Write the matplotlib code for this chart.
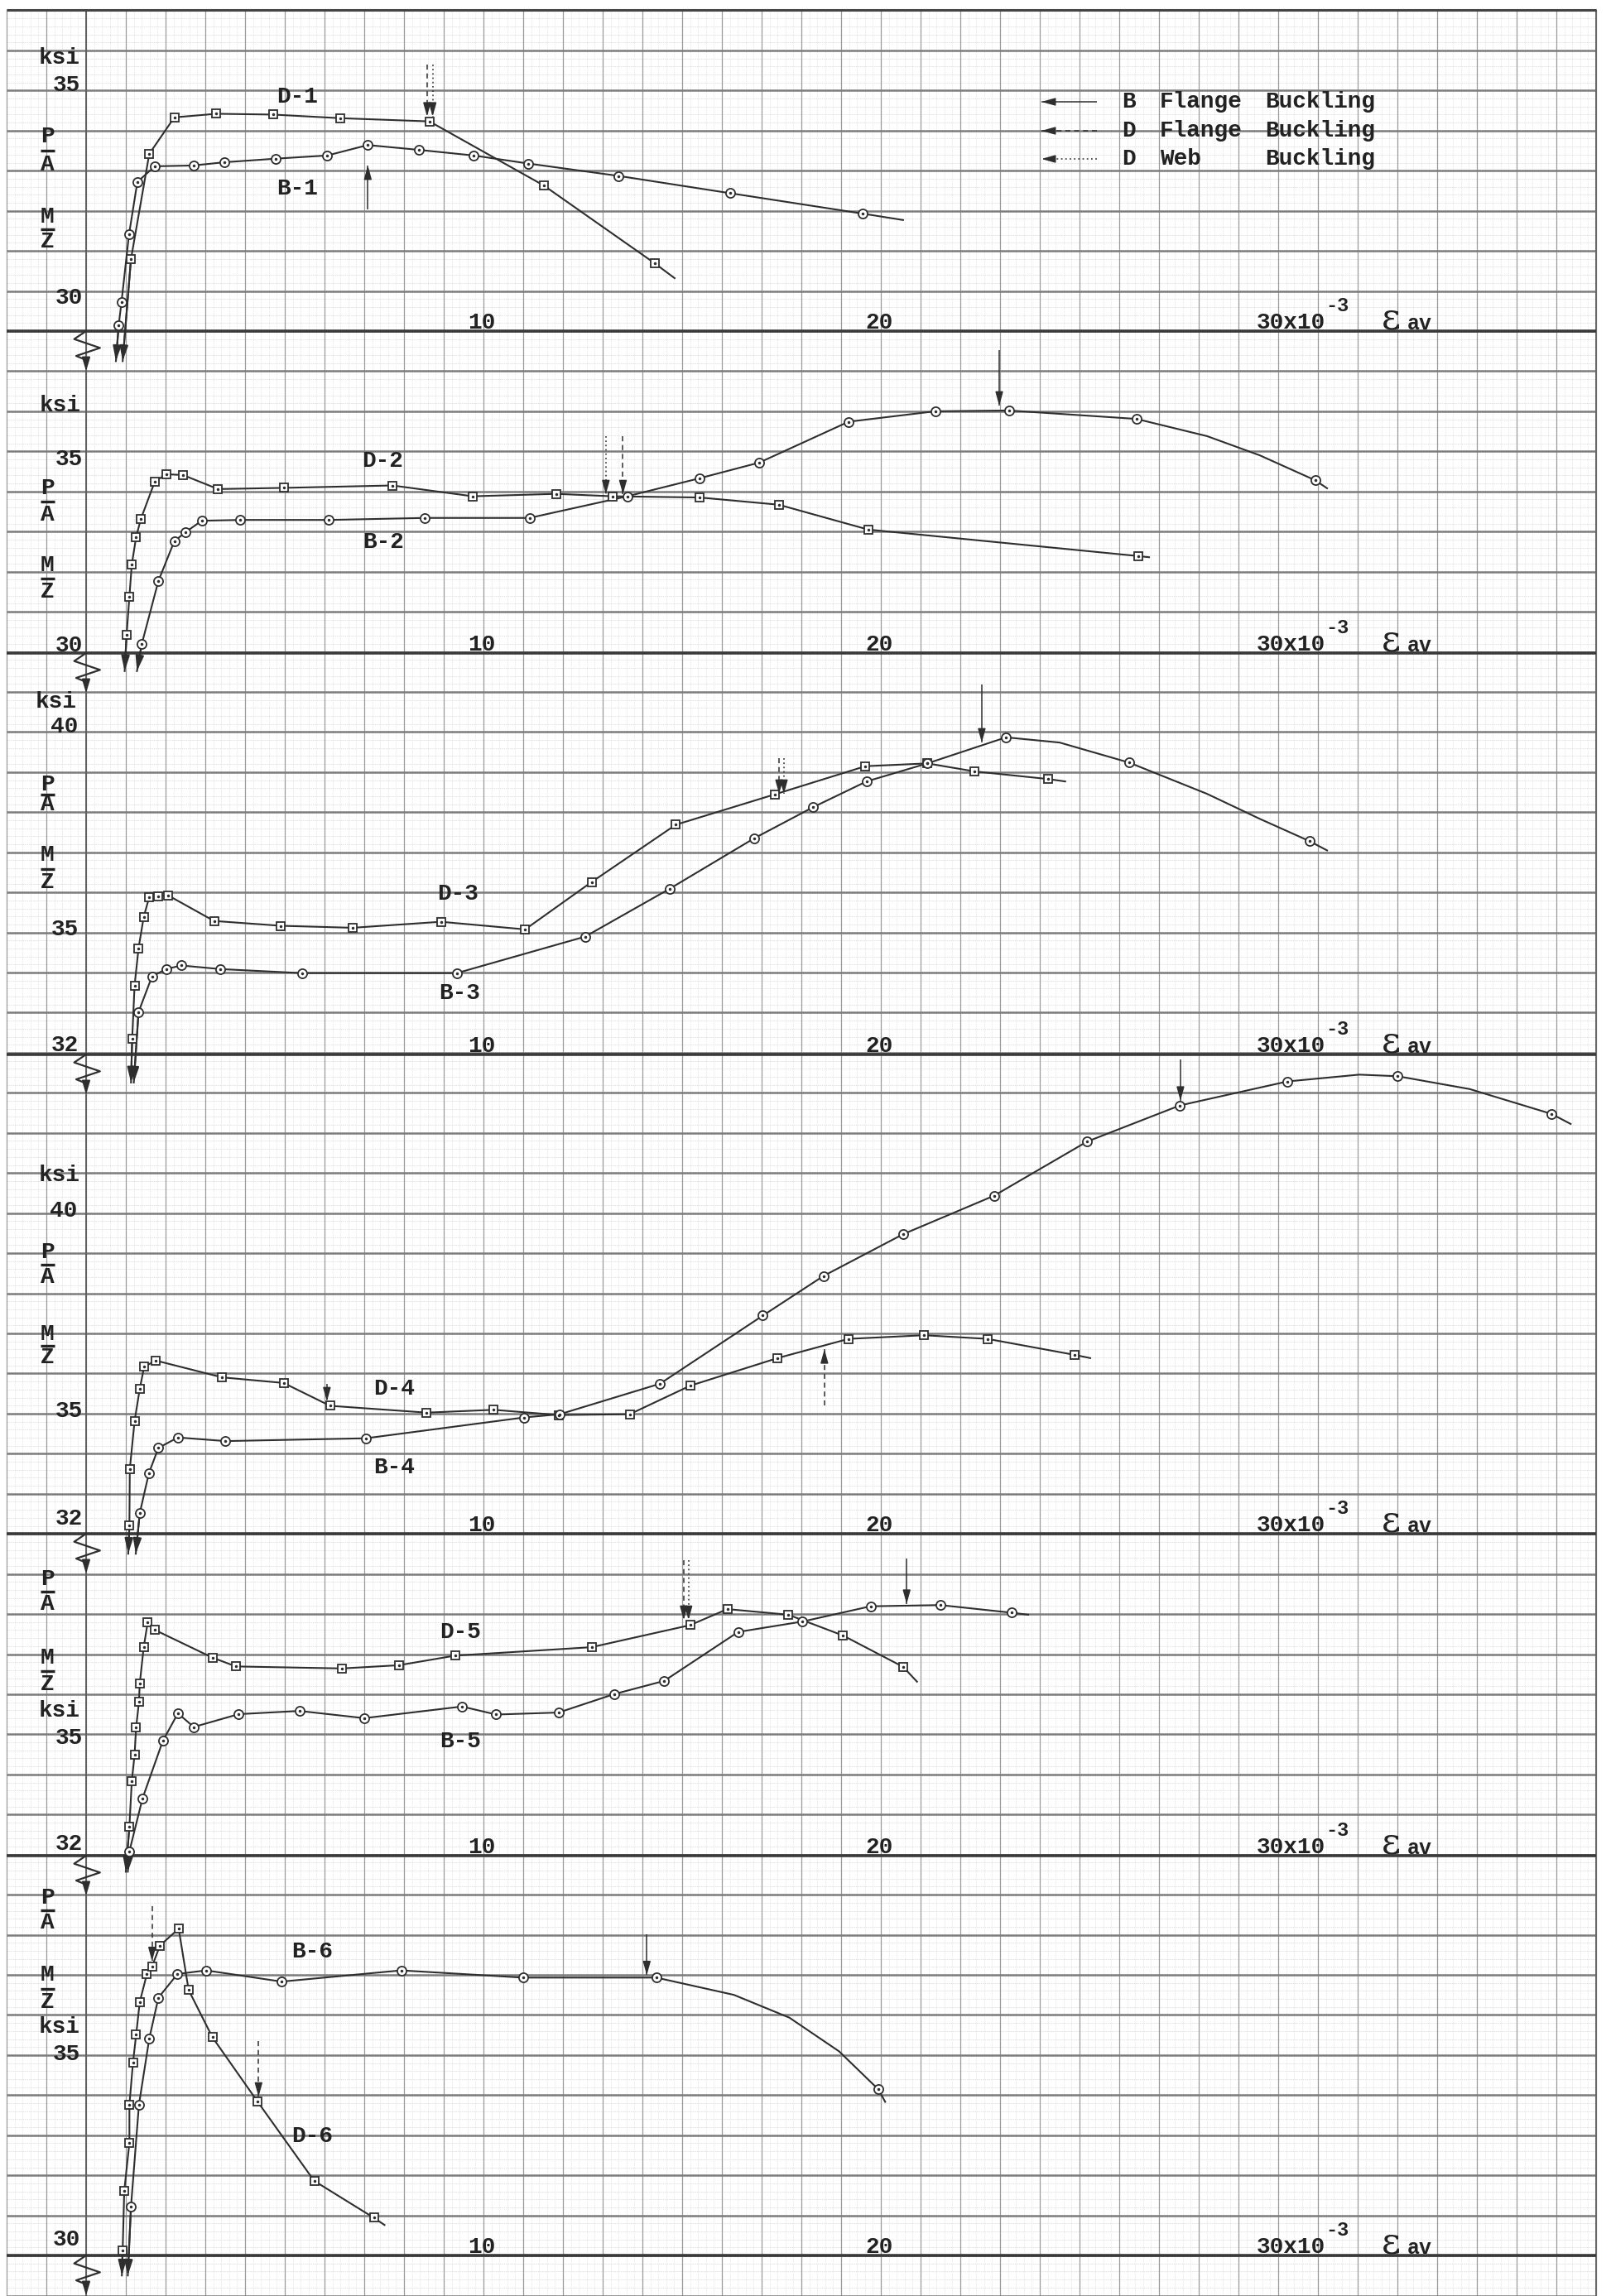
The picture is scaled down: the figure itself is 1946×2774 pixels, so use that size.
import matplotlib
matplotlib.use("Agg")
import matplotlib.pyplot as plt
import numpy as np

W, H, DPI = 1946, 2774, 100
UX, UY = 48.0, 48.44      # pixels per 1e-3 strain / per ksi on the plate
X0 = 104                  # pixel column of zero strain
INK = "#2e2e2e"
TYPE = dict(family="Liberation Mono", weight="bold", color="#222222")
FS = 20

# strain axis of each panel: (pixel row, stress in ksi at that row)
panel_base = [(400, 29), (789, 30), (1274, 32), (1853, 32), (2242, 32), (2725, 30)]

# ---- curves: average strain (x10^-3) vs P/A, M/Z (ksi); first point is the tail below the axis
d1_eps = [0.92, 1.13, 1.59, 2.22, 3.28, 4.70, 6.40, 8.64, 11.52, 14.31, 14.81]
d1_ksi = [28.25, 30.80, 33.42, 34.33, 34.42, 34.40, 34.31, 34.23, 32.63, 30.69, 30.32]
d1_mk = list(range(1, 10))
b1_eps = [0.75, 0.82, 0.89, 1.08, 1.29, 1.73, 2.70, 3.47, 4.77, 6.07, 7.09, 8.37, 9.75, 11.12,
          13.40, 16.20, 19.54, 20.56]
b1_ksi = [28.25, 29.14, 29.72, 31.41, 32.72, 33.11, 33.13, 33.21, 33.30, 33.38, 33.64, 33.52,
          33.38, 33.18, 32.87, 32.44, 31.93, 31.77]
b1_mk = list(range(1, 17))

d2_eps = [0.97, 1.02, 1.09, 1.15, 1.26, 1.38, 1.73, 2.02, 2.44, 3.32, 4.98, 7.71, 9.73, 11.83,
          13.25, 15.44, 17.43, 19.68, 26.47, 26.75]
d2_ksi = [29.55, 30.46, 31.41, 32.21, 32.90, 33.35, 34.28, 34.46, 34.44, 34.09, 34.12, 34.18,
          33.91, 33.97, 33.91, 33.88, 33.70, 33.08, 32.42, 32.39]
d2_mk = list(range(1, 19))
b2_eps = [1.28, 1.40, 1.82, 2.22, 2.51, 2.91, 3.88, 6.11, 8.53, 11.16, 13.62, 15.44, 16.94,
          19.19, 21.37, 23.22, 26.43, 28.21, 29.54, 30.93, 31.23]
b2_ksi = [29.55, 30.22, 31.80, 32.79, 33.02, 33.30, 33.32, 33.32, 33.37, 33.37, 33.91, 34.36,
          34.75, 35.77, 36.03, 36.05, 35.84, 35.41, 34.93, 34.31, 34.11]
b2_mk = list(range(1, 17)) + [19]

d3_eps = [1.13, 1.16, 1.22, 1.32, 1.45, 1.59, 1.82, 2.06, 3.22, 4.90, 6.71, 8.93, 11.05, 12.72,
          14.84, 17.34, 19.61, 21.17, 22.36, 24.21, 24.64]
d3_ksi = [31.3, 32.40, 33.72, 34.65, 35.43, 35.93, 35.95, 35.97, 35.33, 35.21, 35.16, 35.31,
          35.12, 36.30, 37.73, 38.49, 39.19, 39.26, 39.06, 38.87, 38.81]
d3_mk = list(range(1, 20))
b3_eps = [1.20, 1.32, 1.66, 2.02, 2.39, 3.38, 5.43, 9.33, 12.56, 14.68, 16.81, 18.30, 19.64,
          21.17, 23.15, 24.50, 26.25, 28.21, 29.53, 30.79, 31.23]
b3_ksi = [31.3, 33.06, 33.95, 34.13, 34.22, 34.13, 34.03, 34.03, 34.94, 36.13, 37.39, 38.17,
          38.81, 39.26, 39.91, 39.78, 39.28, 38.50, 37.88, 37.32, 37.09]
b3_mk = list(range(1, 15)) + [16, 19]

d4_eps = [1.06, 1.09, 1.10, 1.22, 1.35, 1.46, 1.75, 3.42, 4.97, 6.14, 8.57, 10.26, 11.89, 13.68,
          15.20, 17.40, 19.19, 21.09, 22.68, 24.88, 25.27]
d4_ksi = [31.5, 32.20, 33.61, 34.81, 35.61, 36.16, 36.32, 35.90, 35.76, 35.19, 35.02, 35.09,
          34.96, 34.98, 35.69, 36.38, 36.86, 36.95, 36.86, 36.46, 36.38]
d4_mk = list(range(1, 20))
b4_eps = [1.25, 1.35, 1.58, 1.82, 2.31, 3.51, 7.04, 11.03, 11.92, 14.44, 17.03, 18.56, 20.56,
          22.85, 25.19, 27.52, 30.23, 32.04, 33.01, 34.82, 36.88, 37.36]
b4_ksi = [31.5, 32.51, 33.51, 34.14, 34.40, 34.31, 34.38, 34.90, 34.98, 35.74, 37.44, 38.43,
          39.47, 40.43, 41.78, 42.68, 43.28, 43.45, 43.41, 43.09, 42.47, 42.22]
b4_mk = list(range(1, 17)) + [18, 20]

d5_eps = [1.00, 1.09, 1.15, 1.22, 1.26, 1.33, 1.35, 1.45, 1.55, 1.73, 3.18, 3.77, 6.44, 7.87,
          9.29, 12.72, 15.20, 16.14, 17.67, 19.05, 20.56, 20.91]
d5_ksi = [31.6, 32.73, 33.86, 34.52, 35.21, 35.83, 36.29, 37.20, 37.82, 37.63, 36.94, 36.72,
          36.67, 36.75, 36.99, 37.20, 37.75, 38.15, 38.01, 37.49, 36.71, 36.34]
d5_mk = list(range(1, 21))
b5_eps = [1.05, 1.09, 1.42, 1.93, 2.31, 2.71, 3.84, 5.37, 7.00, 9.46, 10.32, 11.89, 13.29,
          14.55, 16.41, 18.03, 19.74, 21.50, 23.29, 23.71]
b5_ksi = [31.6, 32.11, 33.43, 34.86, 35.55, 35.21, 35.53, 35.61, 35.43, 35.72, 35.52, 35.57,
          36.03, 36.36, 37.58, 37.84, 38.22, 38.25, 38.06, 38.01]
b5_mk = list(range(1, 19))

d6_eps = [0.90, 0.92, 0.96, 1.09, 1.09, 1.18, 1.26, 1.35, 1.53, 1.66, 1.86, 2.33, 2.58, 3.18,
          4.32, 5.74, 7.24, 7.51]
d6_ksi = [29.5, 30.13, 31.61, 32.81, 33.76, 34.81, 35.51, 36.32, 37.02, 37.21, 37.73, 38.15,
          36.62, 35.44, 33.83, 31.86, 30.94, 30.76]
d6_mk = list(range(1, 17))
b6_eps = [1.05, 1.13, 1.33, 1.59, 1.82, 2.30, 3.02, 4.92, 7.93, 10.99, 14.35, 16.30, 17.70,
          18.95, 19.94, 20.11]
b6_ksi = [29.5, 31.22, 33.76, 35.41, 36.43, 37.02, 37.11, 36.83, 37.11, 36.93, 36.93, 36.50,
          35.93, 35.09, 34.14, 33.83]
b6_mk = list(range(1, 11)) + [14]

# buckling arrows: panel, strain, from, to (ksi), kind
buck_panel = [0, 0, 0, 1, 1, 1, 2, 2, 2, 3, 3, 3, 4, 4, 4, 5, 5, 5]
buck_eps = [8.58, 8.72, 7.09, 13.08, 13.51, 22.98, 17.44, 17.56, 22.54, 6.06, 18.58, 27.54,
            15.04, 15.16, 20.65, 1.66, 4.34, 14.11]
buck_from = [35.65, 35.65, 32.03, 35.41, 35.41, 37.56, 39.39, 39.39, 41.22, 35.74, 35.20, 43.83,
             39.37, 39.37, 39.41, 38.71, 35.34, 38.01]
buck_to = [34.35, 34.35, 33.13, 33.96, 33.96, 36.17, 38.50, 38.50, 39.78, 35.30, 36.60, 42.80,
           37.88, 37.88, 38.28, 37.34, 33.96, 36.99]
buck_kind = ["dashed", "dotted", "solid", "dotted", "dashed", "solid", "dashed", "dotted", "solid",
             "dashed", "dashed", "solid", "dashed", "dotted", "solid", "dashed", "dashed", "solid"]

x_ticks = [10, 20]
curve_names = ["D-1", "B-1", "D-2", "B-2", "D-3", "B-3", "D-4", "B-4", "D-5", "B-5", "B-6", "D-6"]
name_px = [(359, 117), (359, 228), (462, 557), (463, 655), (553, 1080), (555, 1200),
           (476, 1678), (476, 1773), (556, 1972), (556, 2104), (377, 2358), (377, 2581)]

left_labels = [
    ("ksi", 72, 70), ("35", 80, 103), ("P", 57, 165), ("A", 57, 199), ("M", 57, 262), ("Z", 57, 292), ("30", 83, 360),
    ("ksi", 73, 490), ("35", 83, 555), ("P", 57, 590), ("A", 57, 622), ("M", 57, 683), ("Z", 57, 715), ("30", 83, 780),
    ("ksi", 68, 848), ("40", 78, 878), ("P", 57, 948), ("A", 57, 972), ("M", 57, 1033), ("Z", 57, 1066), ("35", 78, 1123), ("32", 78, 1263),
    ("ksi", 72, 1420), ("40", 77, 1463), ("P", 57, 1513), ("A", 57, 1543), ("M", 57, 1612), ("Z", 57, 1640), ("35", 83, 1705), ("32", 83, 1835),
    ("P", 57, 1908), ("A", 57, 1938), ("M", 57, 2003), ("Z", 57, 2035), ("ksi", 72, 2067), ("35", 83, 2100), ("32", 83, 2228),
    ("P", 57, 2293), ("A", 57, 2323), ("M", 57, 2386), ("Z", 57, 2419), ("ksi", 72, 2449), ("35", 80, 2482), ("30", 80, 2706),
]

legend_rows = [("solid", "B", "Flange"), ("dashed", "D", "Flange"), ("dotted", "D", "Web")]
legend_y = [123, 158, 192]

brk_dx = [0, -0.3, 0.35, -0.25, 0]
brk_dy = [0, -0.2, -0.42, -0.62, -0.72]

LS = {"solid": "-", "dashed": (0, (4, 3)), "dotted": (0, (1.2, 2.2))}


def arrow(ax, x0, y0, x1, y1, kind, lw=1.1):
    ax.plot([x0, x1], [y0, y1], color=INK, lw=lw, ls=LS[kind], solid_capstyle="butt", zorder=6)
    ax.annotate("", xy=(x1, y1), xytext=(x1 - (x1 - x0) * 0.2, y1 - (y1 - y0) * 0.2),
                arrowprops=dict(arrowstyle="-|>,head_length=1.0,head_width=0.28", color=INK,
                                lw=lw, shrinkA=0, shrinkB=0), zorder=6)


fig = plt.figure(figsize=(W / DPI, H / DPI), dpi=DPI)
fig.patch.set_facecolor("white")
paper = fig.add_axes([0, 0, 1, 1], label="paper")
paper.set_xlim(0, W)
paper.set_ylim(H, 0)
paper.axis("off")

# graph paper
x_left, x_right = X0 - 2 * UX, X0 + 38 * UX
y_top = panel_base[0][0] - 8 * UY
paper.vlines(np.arange(x_left, x_right + 0.1, UX / 5), y_top, H, color="#dcdcdc", lw=0.45,
             linestyles=(0, (2, 1.5)))
paper.hlines(np.arange(y_top, H, UY / 5), x_left, x_right, color="#d4d4d4", lw=0.5,
             linestyles=(0, (2, 1.5)))
paper.vlines(np.arange(x_left, x_right + 0.1, UX), y_top, H, color="#9a9a9a", lw=0.9)
paper.hlines(np.arange(y_top, H, UY), x_left, x_right, color="#7c7c7c", lw=1.8)
paper.vlines([X0], y_top, H, color="#5a5a5a", lw=1.3)
paper.vlines([x_right], y_top, H, color="#666666", lw=1.4)
paper.hlines([y_top], x_left, x_right, color="#444444", lw=2.2)
for yb, v in panel_base:
    paper.hlines(yb, x_left, x_right, color="#3a3a3a", lw=2.6)

axes = []
for i, (yb, v) in enumerate(panel_base):
    ax = fig.add_axes([0, 0, 1, 1], facecolor="none", label="panel%d" % i)
    ax.set_xlim(-X0 / UX, (W - X0) / UX)
    ax.set_ylim(v - (H - yb) / UY, v + yb / UY)
    ax.axis("off")
    axes.append(ax)
    # axis break and tick labels
    ax.plot(np.array(brk_dx), v + np.array(brk_dy), color=INK, lw=1.6)
    ax.annotate("", xy=(0, v - 1.0), xytext=(0, v + brk_dy[-1]),
                arrowprops=dict(arrowstyle="-|>,head_length=1.0,head_width=0.3", color=INK,
                                lw=1.3, shrinkA=0, shrinkB=0))
    for t in x_ticks:
        ax.text(t - 0.05, v + 0.07, str(t), ha="center", va="baseline", fontsize=FS, **TYPE)
    ax.text(29.45, v + 0.07, "30x10", ha="left", va="baseline", fontsize=FS, **TYPE)
    ax.text(31.2, v + 0.5, "-3", ha="left", va="baseline", fontsize=17, **TYPE)
    ax.text(32.6, v + 0.05, "ε", ha="left", va="baseline", fontsize=32,
            family="DejaVu Serif", color="#222222")
    ax.text(33.25, v + 0.05, "av", ha="left", va="baseline", fontsize=18, **TYPE)

series = [
    (0, d1_eps, d1_ksi, d1_mk, "s"), (0, b1_eps, b1_ksi, b1_mk, "o"),
    (1, d2_eps, d2_ksi, d2_mk, "s"), (1, b2_eps, b2_ksi, b2_mk, "o"),
    (2, d3_eps, d3_ksi, d3_mk, "s"), (2, b3_eps, b3_ksi, b3_mk, "o"),
    (3, d4_eps, d4_ksi, d4_mk, "s"), (3, b4_eps, b4_ksi, b4_mk, "o"),
    (4, d5_eps, d5_ksi, d5_mk, "s"), (4, b5_eps, b5_ksi, b5_mk, "o"),
    (5, d6_eps, d6_ksi, d6_mk, "s"), (5, b6_eps, b6_ksi, b6_mk, "o"),
]
for p, eps, ksi, mk, m in series:
    ax = axes[p]
    ax.plot(eps, ksi, color=INK, lw=1.5, zorder=3)
    ax.plot(eps, ksi, ls="none", marker=m, ms=7.5 if m == "s" else 8, mfc="white", mec=INK,
            mew=1.3, markevery=mk, zorder=4)
    ax.plot(eps, ksi, ls="none", marker=".", ms=3, color=INK, markevery=mk, zorder=5)
    ax.annotate("", xy=(eps[0], ksi[0]), xytext=(eps[1], ksi[1]),
                arrowprops=dict(arrowstyle="-|>,head_length=1.1,head_width=0.3", color=INK,
                                lw=1.5, shrinkA=0, shrinkB=0), zorder=2)

for p, x, y0, y1, kind in zip(buck_panel, buck_eps, buck_from, buck_to, buck_kind):
    arrow(axes[p], x, y0, x, y1, kind)

# labels in plate pixels
for name, (px, py) in zip(curve_names, name_px):
    paper.text(px, py, name, ha="center", va="center", fontsize=FS, **TYPE)
for txt, px, py in left_labels:
    paper.text(px, py, txt, ha="center", va="center", fontsize=FS, **TYPE)
for a, b in zip(left_labels[:-1], left_labels[1:]):
    if (a[0], b[0]) in (("P", "A"), ("M", "Z")):
        paper.hlines((a[2] + b[2]) / 2, 49, 66, color="#222222", lw=2.4)

for (kind, who, part), ly in zip(legend_rows, legend_y):
    arrow(paper, 1325, ly, 1258, ly, kind)
    paper.text(1355, ly, who, ha="left", va="center", fontsize=FS, **TYPE)
    paper.text(1401, ly, part, ha="left", va="center", fontsize=FS, **TYPE)
    paper.text(1528, ly, "Buckling", ha="left", va="center", fontsize=FS, **TYPE)

fig.savefig("out.png", dpi=DPI, facecolor="white")
